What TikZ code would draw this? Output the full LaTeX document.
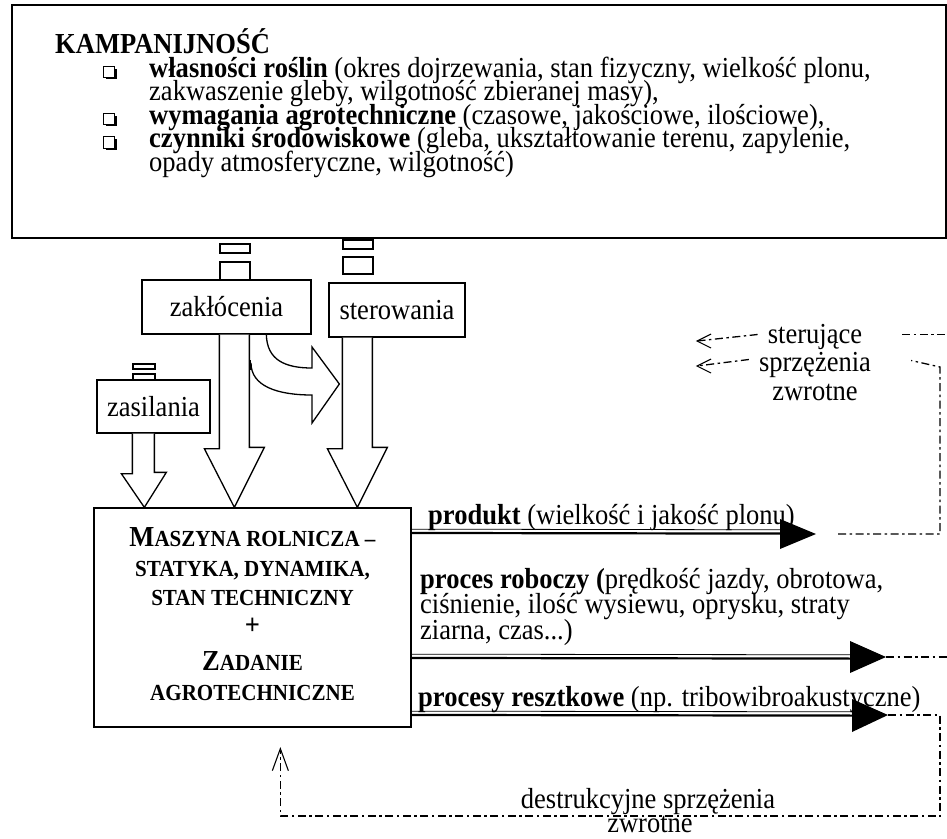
\documentclass[tikz,border=0pt]{standalone}
\usepackage{fontspec}
\setmainfont{Liberation Serif}[FakeStretch=0.915]
\usetikzlibrary{calc}
\newcommand\mainf{\fontsize{29}{23}\selectfont}
\newcommand\bigc{\fontsize{29}{30}\selectfont}
\newcommand\smc{\fontsize{23}{24}\selectfont}
\begin{document}
\begin{tikzpicture}[x=1pt,y=-1pt,
  every node/.append style={font=\mainf, inner sep=0pt},
  lbl/.style={anchor=base west},
  ctr/.style={anchor=base},
  boxst/.style={draw, line width=1.3pt, fill=white},
  tinybox/.style={draw, line width=1.1pt, fill=white},
  blockarrow/.style={draw, line width=1.3pt, fill=white, line join=miter},
  ddash/.style={line width=1.3pt, dash pattern=on 8pt off 3.5pt on 2.5pt off 3.5pt},
  thinl/.style={line width=0.8pt},
  thickl/.style={line width=2.2pt},
  barb/.style={line width=1.1pt, line join=miter}
]
\useasboundingbox (0,0) rectangle (947,838);

% ---------- top box ----------
\node[draw, line width=1.6pt, minimum width=934, minimum height=233] (top) at (479,121.5) {};
\node[lbl] (kt) at (55,53) {\bfseries KAMPANIJNOŚĆ};
\foreach \b in {77,124,147.5}{
  \fill (105.5,\b-8.5) rectangle (117,\b+2);
  \draw[fill=white, line width=0.9pt] (103,\b-11) rectangle (114.5,\b+0.5);
}
\node[lbl] (l1) at (149,77) {\textbf{własności roślin} (okres dojrzewania, stan fizyczny, wielkość plonu,};
\node[lbl] (l2) at (149,100.5) {zakwaszenie gleby, wilgotność zbieranej masy),};
\node[lbl] (l3) at (149,124) {\textbf{wymagania agrotechniczne} (czasowe, jakościowe, ilościowe),};
\node[lbl] (l4) at (149,147.5) {\textbf{czynniki środowiskowe} (gleba, ukształtowanie terenu, zapylenie,};
\node[lbl] (l5) at (149,171) {opady atmosferyczne, wilgotność)};

% ---------- input boxes ----------
\node[boxst, minimum width=169, minimum height=54] (zak) at (226.5,307) {zakłócenia};
\node[boxst, minimum width=136, minimum height=54] (ste) at (397,310) {sterowania};
\node[boxst, minimum width=113, minimum height=53] (zas) at (153.5,406.5) {zasilania};

% small stacked rectangles
\node[tinybox, minimum width=30, minimum height=9] (zt1) at (235,248.5) {};
\node[tinybox, minimum width=30, minimum height=18] (zt2) at (235,271) {};
\node[tinybox, minimum width=30, minimum height=9] (st1) at (358,244.5) {};
\node[tinybox, minimum width=30, minimum height=17] (st2) at (358,265.5) {};
\node[tinybox, minimum width=22, minimum height=5] (at1) at (144,366.5) {};
\node[tinybox, minimum width=22, minimum height=6] (at2) at (144,377) {};

% ---------- main box ----------
\node[boxst, minimum width=317, minimum height=219] (mas) at (252.5,617.5) {};
\node[ctr] (m1) at (252.5,546) {\bfseries\bigc M\smc ASZYNA ROLNICZA –};
\node[ctr] (m2) at (252.5,576) {\bfseries\smc STATYKA, DYNAMIKA,};
\node[ctr] (m3) at (252.5,605) {\bfseries\smc STAN TECHNICZNY};
\node[ctr] (m4) at (252.5,634) {\bfseries\bigc +};
\node[ctr] (m5) at (252.5,670) {\bfseries\bigc Z\smc ADANIE};
\node[ctr] (m6) at (252.5,700) {\bfseries\smc AGROTECHNICZNE};

% ---------- block arrows ----------
\draw[blockarrow] ($(zas.south west)+(36,0)$) -- ++(0,40) -- ++(-11,0)
   -- ($(mas.north west)+(51,0)$) -- ++(22,-35) -- ++(-12,0) -- ($(zas.south west)+(58,0)$);
\draw[blockarrow] ($(zak.south west)+(78,0)$) -- ++(0,114) -- ++(-15,0)
   -- ($(mas.north west)+(141,0)$) -- ++(30,-60) -- ++(-15,0) -- ($(zak.south west)+(108,0)$);
\draw[blockarrow] ($(ste.south west)+(14,0)$) -- ++(0,111) -- ++(-15,0)
   -- ($(mas.north west)+(264,0)$) -- ++(30,-60) -- ++(-15,0) -- ($(ste.south west)+(44,0)$);
% curved arrow zaklocenia -> sterowania
\draw[blockarrow] ($(zak.south west)+(125,0)$) .. controls (267,360) and (285,368) .. (312,368)
   -- (312,347) -- ($(ste.west)+(11,74)$) -- (312,423) -- (312,395)
   .. controls (277,395) and (251,386) .. (251,363);
\draw[line width=1.3pt] (250,360) -- (250,370);

% ---------- output double arrows ----------
% produkt
\coordinate (p0) at ($(mas.north east)+(0,24)$);
\coordinate (p1) at (780,532);
\draw[thinl] ($(p0)+(0,-2.2)$) -- ($(p1)+(6,-2.2)$);
\draw[thickl] ($(p0)+(0,1.6)$) -- ($(p1)+(6,1.6)$);
\fill ($(p1)+(0,-13)$) -- ($(p1)+(36,2)$) coordinate (pT) -- ($(p1)+(0,17)$) -- cycle;
\node[lbl] (prod) at (428,524) {\textbf{produkt} (wielkość i jakość plonu)};

% proces roboczy
\coordinate (r0) at ($(mas.north east)+(0,149)$);
\coordinate (r1) at (850,657);
\draw[thinl] ($(r0)+(0,-2.2)$) -- ($(r1)+(6,-2.2)$);
\draw[thickl] ($(r0)+(0,1.6)$) -- ($(r1)+(6,1.6)$);
\fill ($(r1)+(0,-16)$) -- ($(r1)+(36,0)$) coordinate (rT) -- ($(r1)+(0,16)$) -- cycle;
\node[lbl] (pr1) at (420,588) {\textbf{proces roboczy (}prędkość jazdy, obrotowa,};
\node[lbl] (pr2) at (420,613.5) {ciśnienie, ilość wysiewu, oprysku, straty};
\node[lbl] (pr3) at (420,639) {ziarna, czas...)};

% procesy resztkowe
\coordinate (s0) at ($(mas.north east)+(0,206)$);
\coordinate (s1) at (852,714);
\draw[thinl] ($(s0)+(0,-2.2)$) -- ($(s1)+(6,-2.2)$);
\draw[thickl] ($(s0)+(0,1.6)$) -- ($(s1)+(6,1.6)$);
\fill ($(s1)+(0,-15)$) -- ($(s1)+(36,1)$) coordinate (sT) -- ($(s1)+(0,18)$) -- cycle;
\node[lbl] (res) at (418,706) {\textbf{procesy resztkowe} (np. tribowibroakustyczne)};

% ---------- feedback lines ----------
\node[ctr] (f1) at (815,343) {sterujące};
\node[ctr] (f2) at (815,371) {sprzężenia};
\node[ctr] (f3) at (815,400) {zwrotne};

\coordinate (c1) at (940,367);
\draw[ddash] ($(pT)+(22,0)$) -- (pT -| c1) -- (c1) -- ($(f2.east)+(40,-4)$);
\draw[ddash] ($(f1.east)+(40,-2)$) -- ++(50,0);
\draw[ddash] ($(rT)+(0,0)$) -- ++(70,0);

% left open arrows
\coordinate (a1) at (697,341);
\coordinate (a2) at (697,366);
\draw[ddash] ($(f1.west)+(-10,-2)$) -- (a1);
\draw[barb] ($(a1)+(14,-7)$) -- (a1) -- ($(a1)+(14,7)$);
\draw[ddash] ($(f2.west)+(-10,-5)$) -- (a2);
\draw[barb] ($(a2)+(14,-7)$) -- (a2) -- ($(a2)+(14,7)$);

% destructive feedback
\node[ctr] (d1) at (648,808) {destrukcyjne sprzężenia};
\node[ctr] (d2) at (650,832) {zwrotne};
\coordinate (dT) at ($(mas.south west)+(187,21)$);
\draw[ddash] (sT) -- (sT -| c1) -- (940,816) -- (dT |- 0,816) -- ($(dT)+(0,2)$);
\draw[barb] ($(dT)+(-8,22)$) -- (dT) -- ($(dT)+(8,22)$);
\end{tikzpicture}
\end{document}
